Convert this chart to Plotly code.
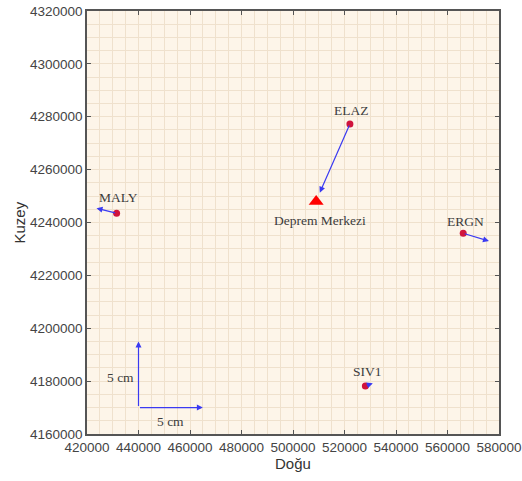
import plotly.graph_objects as go

# ---- data ----
stations = ["MALY", "ELAZ", "ERGN", "SIV1"]
east = [431500, 522100, 566100, 528100]
north = [4243500, 4277300, 4235900, 4178200]
tip_east = [423700, 510400, 576100, 531000]
tip_north = [4245400, 4251300, 4233000, 4179200]

epi_label = "Deprem Merkezi"
epi_east = [509000]
epi_north = [4247900]

scale_origin = (440000, 4170000)
scale_end_x = (465000, 4170000)
scale_end_y = (440000, 4195000)
scale_label = "5 cm"

x_range = [420000, 580000]
y_range = [4160000, 4320000]
major_step = 20000
minor_step = 5000

# ---- styles ----
arrow_col = "#3a3af2"
dot_col = "#d0143c"
serif = "Liberation Serif"
lab_col = "#3c3c3c"

fig = go.Figure()

fig.add_trace(go.Scatter(x=east, y=north, mode="markers",
                         marker=dict(color=dot_col, size=7), showlegend=False))
fig.add_trace(go.Scatter(x=epi_east, y=epi_north, mode="markers",
                         marker=dict(color="#ff0000", symbol="triangle-up", size=13),
                         showlegend=False))

# displacement arrows
for xs, ys, xt, yt in zip(east, north, tip_east, tip_north):
    fig.add_annotation(x=xt, y=yt, ax=xs, ay=ys, xref="x", yref="y", axref="x", ayref="y",
                       showarrow=True, arrowhead=2, arrowsize=1, arrowwidth=1.2,
                       arrowcolor=arrow_col, text="")

# scale arrows
for end in (scale_end_x, scale_end_y):
    fig.add_annotation(x=end[0], y=end[1], ax=scale_origin[0], ay=scale_origin[1],
                       xref="x", yref="y", axref="x", ayref="y",
                       showarrow=True, arrowhead=2, arrowsize=1, arrowwidth=1.2,
                       arrowcolor=arrow_col, text="")

# station labels
shifts = [16, 13, 12, 14]
for name, xs, ys, sh in zip(stations, east, north, shifts):
    fig.add_annotation(x=xs, y=ys, text=name, showarrow=False, yshift=sh, xshift=2,
                       font=dict(family=serif, size=13.5, color=lab_col))

fig.add_annotation(x=epi_east[0], y=epi_north[0], text=epi_label, showarrow=False,
                   yshift=-19, xshift=4, font=dict(family=serif, size=13.5, color=lab_col))

fig.add_annotation(x=scale_origin[0], y=(scale_origin[1] + scale_end_y[1]) / 2,
                   text=scale_label, showarrow=False, xshift=-18, yshift=-3,
                   font=dict(family=serif, size=13.5, color=lab_col))
fig.add_annotation(x=(scale_origin[0] + scale_end_x[0]) / 2, y=scale_origin[1],
                   text=scale_label, showarrow=False, yshift=-14,
                   font=dict(family=serif, size=13.5, color=lab_col))

# axis titles
fig.add_annotation(text="Doğu", xref="paper", yref="paper", x=0.5, y=0, yshift=-29,
                   xanchor="center", yanchor="middle",
                   showarrow=False, font=dict(family="Liberation Sans", size=15, color="#333333"))
fig.add_annotation(text="Kuzey", xref="paper", yref="paper", x=0, y=0.5, xshift=-68,
                   xanchor="center", yanchor="middle",
                   textangle=-90, showarrow=False,
                   font=dict(family="Liberation Sans", size=15, color="#333333"))

axis_common = dict(
    showline=True, linecolor="#555555", linewidth=1.5, mirror="ticks",
    ticks="inside", ticklen=4, tickcolor="#555555", tickwidth=1.2,
    showgrid=True, gridcolor="#efe1cd", gridwidth=1, zeroline=False,
    tickfont=dict(family="Liberation Sans", size=13.5, color="#444444"),
    tickmode="linear", dtick=major_step, automargin=False,
    tickformat="d", exponentformat="none", ticklabeloverflow="allow",
    minor=dict(showgrid=True, gridcolor="#efe1cd", gridwidth=1,
               tickmode="linear", dtick=minor_step, ticks=""),
)

fig.update_xaxes(range=x_range, tick0=x_range[0], **axis_common)
fig.update_yaxes(range=y_range, tick0=y_range[0], **axis_common)

fig.update_layout(width=522, height=481,
                  margin=dict(l=87, r=23, t=11, b=47),
                  plot_bgcolor="#fdf5e9", paper_bgcolor="white",
                  showlegend=False)

fig.write_html("out.html", config={"displayModeBar": False},
               post_script="document.body.style.margin='0';document.body.style.overflow='hidden';")
